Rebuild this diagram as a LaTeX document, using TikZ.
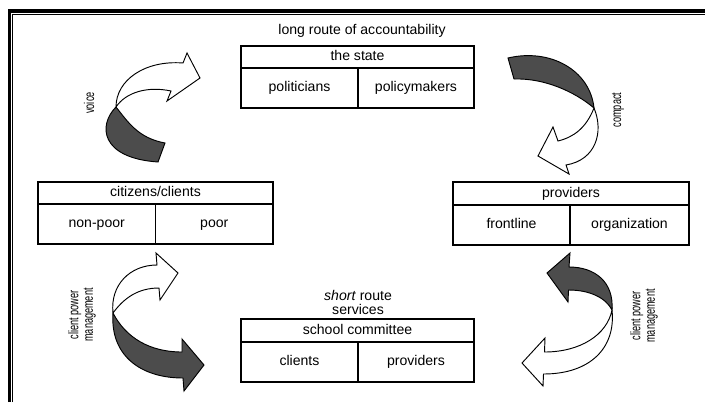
\documentclass[tikz,border=0pt]{standalone}
\usepackage{fontspec}
\usepackage{graphicx}
\setmainfont{Liberation Sans}
\newcommand{\squeezed}[1]{\scalebox{0.65}[1]{#1}}

\tikzset{
  box/.style={line width=0.9pt},
  cell/.style={font=\fontsize{12}{14}\selectfont, text height=1.6ex, text depth=0.4ex},
  sidelabel/.style={font=\fontsize{12}{12.5}\selectfont, rotate=90, align=center},
  darkband/.style={draw, line width=0.8pt, fill=black!70},
  lightband/.style={draw, line width=0.8pt, fill=white},
}

\begin{document}
\begin{tikzpicture}[x=0.3mm,y=-0.3mm]
\useasboundingbox (0,0) rectangle (705,402);

% frame
\draw[line width=2.6pt] (9.5,402) -- (9.5,11) -- (705,11);
\draw[line width=1.1pt] (12.5,402) -- (12.5,14.3) -- (705,14.3);

\node[cell] (longroute) at (362,31) {long route of accountability};

% the state
\draw[box] (241,46) rectangle (474,108);
\draw[box] (241,68) -- (474,68);
\draw[box] (358,68) -- (358,108);
\node[cell] (state) at (357.5,57) {the state};
\node[cell] (politicians) at (299.5,88) {politicians};
\node[cell] (policymakers) at (416,88) {policymakers};

% citizens/clients
\draw[box] (38,182) rectangle (273,244);
\draw[box] (38,204) -- (273,204);
\draw[box] (155.5,204) -- (155.5,244);
\node[cell] (citizens) at (155.5,193) {citizens/clients};
\node[cell] (nonpoor) at (96.75,224) {non-poor};
\node[cell] (poor) at (214.25,224) {poor};

% providers
\draw[box] (453,182) rectangle (689,245);
\draw[box] (453,205) -- (689,205);
\draw[box] (570,205) -- (570,245);
\node[cell] (providers) at (571,193.5) {providers};
\node[cell] (frontline) at (511.5,225) {frontline};
\node[cell] (organization) at (629.5,225) {organization};

% school committee
\node[cell] (shortroute) at (358,297) {\textit{short} route};
\node[cell] (services) at (358,311) {services};
\draw[box] (241,319) rectangle (474,382);
\draw[box] (241,342) -- (474,342);
\draw[box] (358,342) -- (358,382);
\node[cell] (committee) at (357.5,330.5) {school committee};
\node[cell] (clients) at (299.5,362) {clients};
\node[cell] (schoolproviders) at (416,362) {providers};

% side labels
\node[sidelabel] (voice) at (89,103) {\squeezed{voice}};
\node[sidelabel] (compact) at (618,110) {\squeezed{compact}};
\node[sidelabel] (leftpower) at (82,315) {\squeezed{client power}\\\squeezed{management}};
\node[sidelabel] (rightpower) at (644,316) {\squeezed{client power}\\\squeezed{management}};

% voice
\filldraw[darkband] (116,107) .. controls (98,125) and (100,158) .. (158,162) -- (165,143)
  .. controls (138,138) and (128,122) .. cycle;
\filldraw[lightband] (116,107) .. controls (116,80) and (145,60) .. (183,63) -- (187,53) -- (200,78)
  -- (167,101) -- (171,91) .. controls (148,86) and (126,92) .. cycle;

% compact
\filldraw[darkband] (508,58) .. controls (550,48) and (590,70) .. (594,108)
  .. controls (575,92) and (545,78) .. (514,79) -- cycle;
\filldraw[lightband] (594,108) .. controls (604,132) and (596,160) .. (566,165) -- (569,174) -- (538,156)
  -- (553,127) -- (558,141) .. controls (574,137) and (586,128) .. cycle;

% client power, left
\filldraw[lightband] (113,313) .. controls (110,285) and (130,265) .. (157,265) -- (156,253) -- (178,273)
  -- (160,300) -- (159,288) .. controls (138,288) and (124,298) .. cycle;
\filldraw[darkband] (113,313) .. controls (110,355) and (140,378) .. (183,378) -- (184,391) -- (204,365)
  -- (182,339) -- (182,352) .. controls (150,352) and (126,338) .. cycle;

% client power, right
\filldraw[darkband] (612,310) .. controls (614,282) and (595,267) .. (569,267) -- (570,253) -- (547,273)
  -- (568,302) -- (568.5,290) .. controls (590,290) and (606,298) .. cycle;
\filldraw[lightband] (612,310) .. controls (616,348) and (590,374) .. (543.5,374) -- (543,386) -- (522,363)
  -- (545,338) -- (544.5,352) .. controls (580,352) and (607,335) .. cycle;
\end{tikzpicture}
\end{document}
